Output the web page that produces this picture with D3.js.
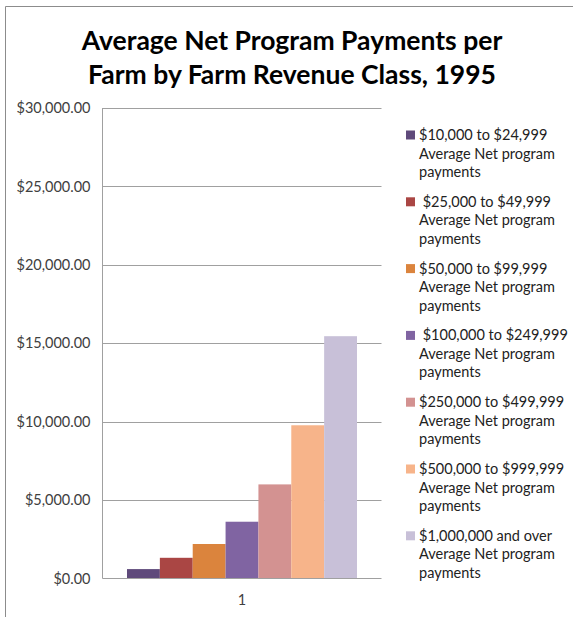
<!DOCTYPE html>
<html>
<head>
<meta charset="utf-8">
<script src="https://cdn.jsdelivr.net/npm/d3@7"></script>
<style>
  html, body { margin: 0; padding: 0; background: #fff; }
  svg { display: block; font-family: Lato, "Open Sans", sans-serif; }
</style>
</head>
<body>
<svg id="chart" width="573" height="617"></svg>
<script>
// Revenue classes (one series each) and their average net program payments, 1995
const seriesNames = [
  "$10,000 to $24,999 Average Net program payments",
  " $25,000 to $49,999 Average Net program payments",
  "$50,000 to $99,999 Average Net program payments",
  " $100,000 to $249,999 Average Net program payments",
  "$250,000 to $499,999 Average Net program payments",
  "$500,000 to $999,999 Average Net program payments",
  "$1,000,000 and over Average Net program payments"
];
const legendLines = [
  ["$10,000 to $24,999", "Average Net program", "payments"],
  ["\u00a0$25,000 to $49,999", "Average Net program", "payments"],
  ["$50,000 to $99,999", "Average Net program", "payments"],
  ["\u00a0$100,000 to $249,999", "Average Net program", "payments"],
  ["$250,000 to $499,999", "Average Net program", "payments"],
  ["$500,000 to $999,999", "Average Net program", "payments"],
  ["$1,000,000 and over", "Average Net program", "payments"]
];
const seriesValues = [600, 1320, 2200, 3620, 6000, 9770, 15450];
const seriesColors = ["#5f4a7b", "#aa4644", "#db843d", "#8064a2", "#d39291", "#f7b48a", "#c8c0d8"];
const categories = ["1"];
const yTicks = [0, 5000, 10000, 15000, 20000, 25000, 30000];

const svg = d3.select("#chart");

// chart frame (top and left edges)
svg.append("path")
  .attr("d", "M5.5,617 L5.5,6.5 L573,6.5")
  .attr("fill", "none")
  .attr("stroke", "#8c8c8c")
  .attr("stroke-width", 1);

// title
const title = svg.append("text")
  .attr("text-anchor", "middle")
  .attr("font-weight", "bold")
  .attr("font-size", 26.5)
  .attr("fill", "#000");
title.append("tspan").attr("x", 292).attr("y", 50).text("Average Net Program Payments per");
title.append("tspan").attr("x", 292).attr("y", 84).text("Farm by Farm Revenue Class, 1995");

const plot = { left: 102.5, right: 381.5, top: 108, bottom: 578.5 };

const y = d3.scaleLinear().domain([0, 30000]).range([plot.bottom, plot.top]);
const x0 = d3.scaleBand().domain(categories).range([plot.left, plot.right]).paddingInner(0).paddingOuter(0.1065);
const x1 = d3.scaleBand().domain(d3.range(seriesValues.length)).range([0, x0.bandwidth()]);

// gridlines
svg.append("g")
  .selectAll("line")
  .data(yTicks.filter(d => d > 0))
  .join("line")
  .attr("x1", plot.left).attr("x2", plot.right)
  .attr("y1", d => Math.round(y(d)) + 0.5).attr("y2", d => Math.round(y(d)) + 0.5)
  .attr("stroke", "#a0a0a0");

// y axis
const fmt = d3.format("$,.2f");
const yAxis = svg.append("g")
  .attr("transform", `translate(${plot.left},0)`)
  .call(d3.axisLeft(y).tickValues(yTicks).tickFormat(fmt).tickSize(0).tickPadding(12));
yAxis.select(".domain").remove();
yAxis.selectAll("text").attr("font-size", 14.5).attr("fill", "#404040").attr("font-family", "Lato, sans-serif");
svg.append("line")
  .attr("x1", plot.left).attr("x2", plot.left)
  .attr("y1", plot.top).attr("y2", plot.bottom)
  .attr("stroke", "#a0a0a0");

// bars
svg.append("g")
  .selectAll("g")
  .data(categories)
  .join("g")
  .attr("transform", d => `translate(${x0(d)},0)`)
  .selectAll("rect")
  .data(() => seriesValues.map((v, i) => ({ v, i })))
  .join("rect")
  .attr("x", d => x1(d.i))
  .attr("width", x1.bandwidth())
  .attr("y", d => y(d.v))
  .attr("height", d => y(0) - y(d.v))
  .attr("fill", d => seriesColors[d.i]);

// x axis baseline and category label
svg.append("line")
  .attr("x1", plot.left).attr("x2", plot.right)
  .attr("y1", plot.bottom).attr("y2", plot.bottom)
  .attr("stroke", "#a0a0a0");
const xAxis = svg.append("g")
  .attr("transform", `translate(0,${plot.bottom})`)
  .call(d3.axisBottom(x0).tickSize(0).tickPadding(16));
xAxis.select(".domain").remove();
xAxis.selectAll("text").attr("font-size", 14.5).attr("fill", "#404040").attr("font-family", "Lato, sans-serif");

// legend
const legend = svg.append("g").attr("font-size", 14.5).attr("fill", "#222");
const item = legend.selectAll("g")
  .data(legendLines)
  .join("g")
  .attr("transform", (d, i) => `translate(406,${135 + i * 66.8})`);
item.append("rect")
  .attr("x", 0).attr("y", -4.5)
  .attr("width", 9).attr("height", 9)
  .attr("fill", (d, i) => seriesColors[i]);
item.append("text")
  .selectAll("tspan")
  .data(d => d)
  .join("tspan")
  .attr("x", 13)
  .attr("y", (d, j) => 5 + j * 18.5)
  .text(d => d);
</script>
</body>
</html>
